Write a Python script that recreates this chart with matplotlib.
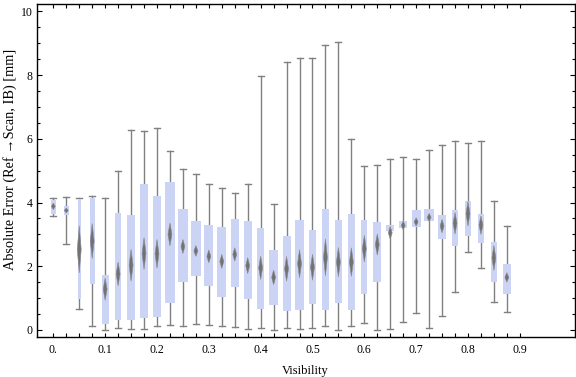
import numpy as np
import matplotlib.pyplot as plt
from matplotlib.patches import Polygon, Rectangle
from matplotlib.ticker import MultipleLocator, FixedLocator

plt.rcParams['font.family'] = ['Liberation Serif', 'DejaVu Serif']

# visibility bins
vis = [0.0, 0.025, 0.05, 0.075, 0.1, 0.125, 0.15, 0.175, 0.2, 0.225,
       0.25, 0.275, 0.3, 0.325, 0.35, 0.375, 0.4, 0.425, 0.45, 0.475,
       0.5, 0.525, 0.55, 0.575, 0.6, 0.625, 0.65, 0.675, 0.7, 0.725,
       0.75, 0.775, 0.8, 0.825, 0.85, 0.875]

# whisker ends, quartiles, diamond centre and half-height
lo = [3.59, 2.71, 0.65, 0.13, 0.0, 0.05, 0.03, 0.03, 0.13, 0.16,
      0.13, 0.19, 0.16, 0.13, 0.08, 0.02, 0.05, 0.0, 0.05, 0.02,
      0.05, 0.12, 0.0, 0.12, 0.21, 0.0, 0.02, 0.24, 0.53, 0.05,
      0.44, 1.18, 2.45, 1.95, 0.87, 0.56]
q1 = [3.63, 3.61, 0.97, 1.44, 0.18, 0.32, 0.32, 0.39, 0.42, 0.86,
      1.49, 1.68, 1.37, 1.05, 1.34, 0.96, 0.67, 0.79, 0.60, 0.63,
      0.82, 0.64, 0.85, 0.63, 1.12, 1.49, 3.11, 3.20, 3.23, 3.42,
      2.87, 2.63, 2.94, 2.73, 1.49, 1.12]
mid = [3.88, 3.75, 2.53, 2.79, 1.28, 1.76, 2.03, 2.40, 2.39, 3.00,
       2.62, 2.48, 2.31, 2.15, 2.37, 2.02, 1.95, 1.65, 1.92, 2.08,
       1.97, 2.28, 2.13, 2.13, 2.55, 2.68, 3.05, 3.28, 3.39, 3.53,
       3.26, 3.35, 3.65, 3.29, 2.26, 1.65]
q3 = [4.07, 3.88, 4.11, 4.13, 1.74, 3.66, 3.60, 4.58, 4.22, 4.64,
      3.79, 3.41, 3.28, 3.22, 3.47, 3.41, 3.19, 2.51, 2.94, 3.44,
      3.13, 3.79, 3.44, 3.63, 3.44, 3.38, 3.28, 3.41, 3.76, 3.79,
      3.60, 3.76, 4.04, 3.63, 2.77, 2.08]
hi = [4.13, 4.16, 4.15, 4.21, 4.13, 4.98, 6.28, 6.24, 6.33, 5.63,
      5.06, 4.89, 4.58, 4.45, 4.30, 4.58, 7.98, 3.95, 8.40, 8.53,
      8.53, 8.95, 9.03, 6.00, 5.15, 5.18, 5.36, 5.42, 5.36, 5.64,
      5.80, 5.93, 5.86, 5.93, 4.06, 3.27]
dh = [0.10, 0.08, 0.74, 0.55, 0.35, 0.37, 0.50, 0.50, 0.45, 0.36,
      0.22, 0.17, 0.20, 0.22, 0.21, 0.25, 0.37, 0.23, 0.39, 0.44,
      0.41, 0.58, 0.46, 0.45, 0.42, 0.33, 0.20, 0.14, 0.13, 0.13,
      0.21, 0.34, 0.39, 0.29, 0.39, 0.15]
# relative box widths
box_rel = [8, 7, 4, 7, 10, 10, 11, 11, 13, 15,
           16, 15, 13, 13, 12, 12, 10, 13, 12, 13,
           11, 11, 11, 11, 9, 12, 12, 12, 13, 15,
           11, 10, 8, 9, 8, 11]

x_labels = ['0.', '0.1', '0.2', '0.3', '0.4', '0.5', '0.6', '0.7', '0.8', '0.9']

fig = plt.figure(figsize=(5.76, 3.77), dpi=100)
ax = fig.add_axes([0.0637, 0.1053, 0.9337, 0.8841])

box_col = '#ccd4f5'
grey = '#808080'
cap = 0.0058
dw = 0.0038

for i in range(len(vis)):
    x = vis[i]
    w = box_rel[i] * 0.0013
    ax.plot([x, x], [lo[i], hi[i]], color=grey, lw=1.0, zorder=1)
    ax.plot([x - cap, x + cap], [lo[i], lo[i]], color=grey, lw=1.0, zorder=1)
    ax.plot([x - cap, x + cap], [hi[i], hi[i]], color=grey, lw=1.0, zorder=1)
    ax.add_patch(Rectangle((x - w / 2, q1[i]), w, q3[i] - q1[i],
                           facecolor=box_col, edgecolor='none', zorder=2))
    ax.add_patch(Polygon([(x - dw, mid[i]), (x, mid[i] + dh[i]),
                          (x + dw, mid[i]), (x, mid[i] - dh[i])],
                         closed=True, facecolor='#727272', edgecolor='#8a8a8a',
                         lw=0.4, zorder=3))

ax.set_xlim(-0.0321, 1.0055)
ax.set_ylim(-0.23, 10.23)

ax.xaxis.set_major_locator(FixedLocator([0.1 * k for k in range(10)]))
ax.xaxis.set_minor_locator(FixedLocator([0.025 * k for k in range(37)]))
ax.set_xticklabels(x_labels)
ax.yaxis.set_major_locator(MultipleLocator(2))
ax.yaxis.set_minor_locator(MultipleLocator(0.5))

ax.tick_params(axis='x', which='both', direction='in', top=True, length=3,
               width=0.8, labelsize=8.5, pad=5)
ax.tick_params(axis='y', which='major', direction='in', right=True, length=3.5,
               width=0.8, labelsize=8.5, pad=3)
ax.tick_params(axis='y', which='minor', direction='in', right=True, length=2,
               width=0.8)
for s in ax.spines.values():
    s.set_linewidth(1.0)

ax.set_xlabel('Visibility', fontsize=9, labelpad=6)
ax.set_ylabel('Absolute Error (Ref \u2192Scan, IB) [mm]', fontsize=10.3)
ax.yaxis.set_label_coords(-0.036, 0.535)

fig.savefig('out.png', dpi=100)
